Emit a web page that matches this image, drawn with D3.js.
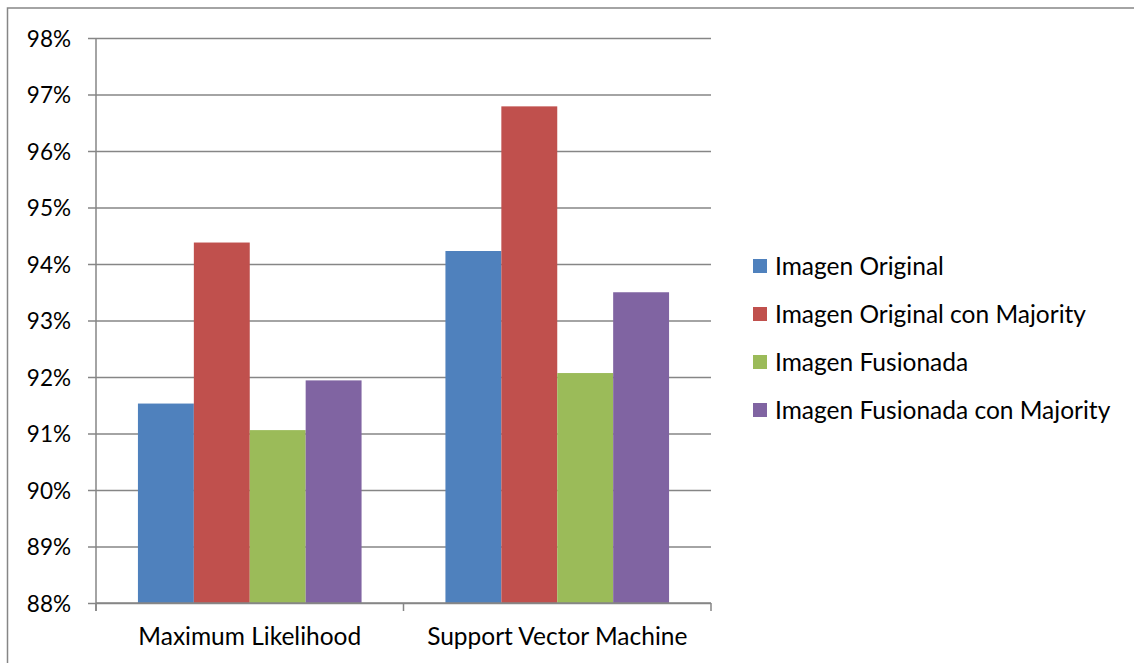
<!DOCTYPE html>
<html>
<head>
<meta charset="utf-8">
<script src="https://cdn.jsdelivr.net/npm/d3@7"></script>
<style>
  html, body { margin: 0; padding: 0; background: #fff; }
  svg { display: block; }
  text { font-family: Lato, "Open Sans", sans-serif; fill: #000; }
</style>
</head>
<body>
<svg id="chart" width="1134" height="663"></svg>
<script>
// Accuracy by classifier and image variant
const categories = ["Maximum Likelihood", "Support Vector Machine"];
const seriesNames = [
  "Imagen Original",
  "Imagen Original con Majority",
  "Imagen Fusionada",
  "Imagen Fusionada con Majority"
];
const imagenOriginal = [91.53, 94.23];
const imagenOriginalMajority = [94.38, 96.79];
const imagenFusionada = [91.06, 92.07];
const imagenFusionadaMajority = [91.94, 93.50];
const yTicks = [88, 89, 90, 91, 92, 93, 94, 95, 96, 97, 98];
const colors = ["#4F81BD", "#C0504D", "#9BBB59", "#8064A2"];

const seriesValues = [imagenOriginal, imagenOriginalMajority, imagenFusionada, imagenFusionadaMajority];

const svg = d3.select("#chart");
const plot = { left: 96, right: 711, top: 38, bottom: 603 };
const axisColor = "#868686";

// outer chart frame (runs off the right and bottom edges)
svg.append("rect")
  .attr("x", 7.5).attr("y", 8)
  .attr("width", 1140).attr("height", 670)
  .attr("fill", "none").attr("stroke", axisColor).attr("stroke-width", 1.5);

const x0 = d3.scaleBand().domain(categories).range([plot.left, plot.right])
  .paddingInner(1.5 / 5.5).paddingOuter(0.75 / 5.5);
const x1 = d3.scaleBand().domain(seriesNames).range([0, x0.bandwidth()]);
const y = d3.scaleLinear().domain([88, 98]).range([plot.bottom, plot.top]);

// horizontal gridlines with tick marks
const yAxis = d3.axisLeft(y).tickValues(yTicks)
  .tickSize(-(plot.right - plot.left)).tickFormat(d => d + "%");
const gy = svg.append("g").attr("transform", `translate(${plot.left},0)`).call(yAxis);
gy.select(".domain").remove();
gy.selectAll(".tick line").attr("stroke", axisColor).attr("stroke-width", 1.5)
  .attr("x1", -8);
gy.selectAll(".tick text").attr("x", -25).attr("dy", "0.36em")
  .style("font-size", "22.5px").style("font-family", "Lato, sans-serif").attr("fill", "#000");

// bars
const groups = svg.append("g").selectAll("g")
  .data(categories).join("g")
  .attr("transform", d => `translate(${x0(d)},0)`);
groups.selectAll("rect")
  .data((c, ci) => seriesNames.map((s, si) => ({ s, si, v: seriesValues[si][ci] })))
  .join("rect")
  .attr("x", d => x1(d.s))
  .attr("y", d => y(d.v))
  .attr("width", x1.bandwidth())
  .attr("height", d => y(88) - y(d.v))
  .attr("fill", d => colors[d.si]);

// vertical axis line
svg.append("line")
  .attr("x1", plot.left).attr("x2", plot.left)
  .attr("y1", plot.top).attr("y2", plot.bottom + 8)
  .attr("stroke", axisColor).attr("stroke-width", 1.5);

// category axis
const xAxis = d3.axisBottom(x0).tickSize(0).tickPadding(0);
const gx = svg.append("g").attr("transform", `translate(0,${plot.bottom})`).call(xAxis);
gx.select(".domain").attr("stroke", axisColor).attr("stroke-width", 1.5)
  .attr("d", `M${plot.left},0H${plot.right}`);
gx.selectAll(".tick text").attr("y", 25)
  .style("font-size", "24.5px").style("font-family", "Lato, sans-serif").attr("fill", "#000");
// category boundary marks
const bounds = [plot.left, ...categories.slice(1).map(c => x0(c) - x0.step() * x0.paddingInner() / 2), plot.right];
svg.append("g").selectAll("line").data(bounds).join("line")
  .attr("x1", d => d).attr("x2", d => d)
  .attr("y1", plot.bottom).attr("y2", plot.bottom + 8)
  .attr("stroke", axisColor).attr("stroke-width", 1.5);

// legend
const legend = svg.append("g").attr("transform", "translate(753,266)");
const items = legend.selectAll("g").data(seriesNames).join("g")
  .attr("transform", (d, i) => `translate(0,${i * 48})`);
items.append("rect").attr("x", 0).attr("y", -7).attr("width", 14).attr("height", 14)
  .attr("fill", (d, i) => colors[i]);
items.append("text").attr("x", 22).attr("dy", "0.36em")
  .style("font-size", "24.5px").text(d => d);
</script>
</body>
</html>
